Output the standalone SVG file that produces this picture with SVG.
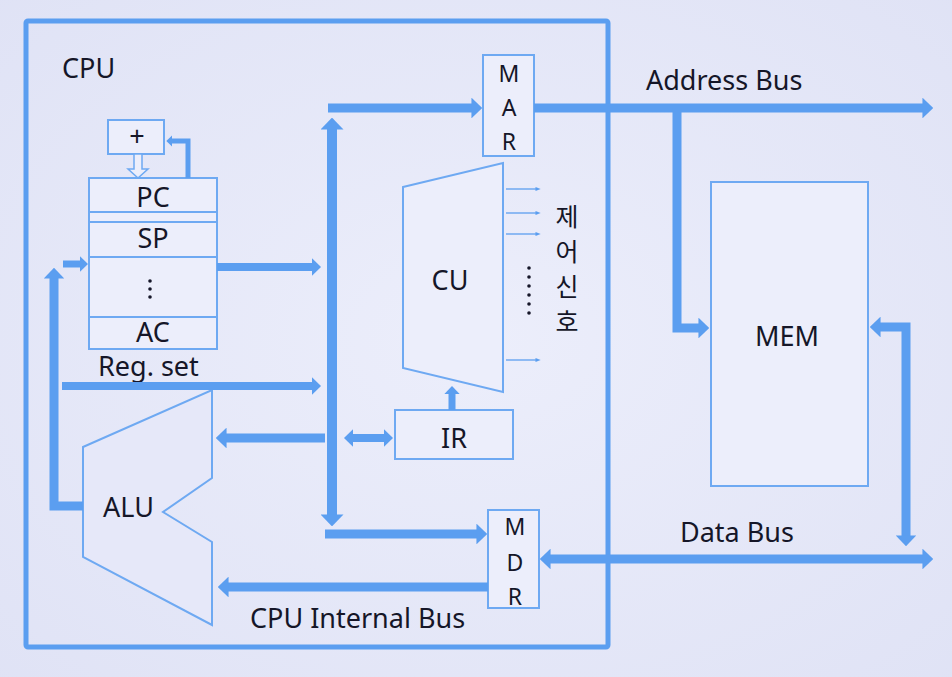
<svg xmlns="http://www.w3.org/2000/svg" width="952" height="677" viewBox="0 0 952 677">
  <defs>
    <radialGradient id="bg" cx="0.5" cy="0.5" r="0.75">
      <stop offset="0" stop-color="#eceefb"/>
      <stop offset="1" stop-color="#dfe2f5"/>
    </radialGradient>
    <marker id="ah" viewBox="0 0 10 10" refX="0.5" refY="5" markerWidth="1.2" markerHeight="2.3" markerUnits="strokeWidth" orient="auto-start-reverse" preserveAspectRatio="none">
      <path d="M0,0 L10,5 L0,10 z" fill="#5b9ef0"/>
    </marker>
    <marker id="as" viewBox="0 0 10 10" refX="1" refY="5" markerWidth="4" markerHeight="4" markerUnits="strokeWidth" orient="auto">
      <path d="M0,1 L10,5 L0,9 z" fill="#5b9ef0"/>
    </marker>
    <style>
      .box { fill: #eceefb; stroke: #6ea9f2; stroke-width: 2; }
      .bus { fill: none; stroke: #5b9ef0; stroke-linejoin: miter; stroke-linecap: butt; }
      .thin { fill: none; stroke: #5b9ef0; stroke-width: 1.3; }
      .t { font-family: "Noto Sans", "Open Sans", "Liberation Sans", sans-serif; font-size: 27px; fill: #151628; }
      .c { text-anchor: middle; }
      .r { font-size: 23px; }
      .k { font-family: "Noto Sans CJK KR", "Noto Sans", sans-serif; font-size: 25px; fill: #151628; }
      .dot { fill: #151628; }
    </style>
  </defs>

  <rect x="0" y="0" width="952" height="677" fill="url(#bg)"/>

  <g id="cpu">
    <rect x="26" y="21" width="582" height="626" fill="none" stroke="#5b9ef0" stroke-width="5" rx="2"/>
    <text class="t" x="62" y="78">CPU</text>
  </g>

  <g id="incrementer">
    <rect class="box" x="108" y="120" width="56" height="34"/>
    <text class="t c" x="137" y="146" font-size="24">+</text>
    <polygon points="134,154 134,169 128,169 138,178 148,169 142,169 142,154" fill="#eceefb" stroke="#6ea9f2" stroke-width="1.5"/>
  </g>

  <g id="reg-set">
    <rect class="box" x="89" y="178" width="128" height="171"/>
    <line x1="89" y1="212" x2="217" y2="212" stroke="#6ea9f2" stroke-width="2"/>
    <line x1="89" y1="222" x2="217" y2="222" stroke="#6ea9f2" stroke-width="2"/>
    <line x1="89" y1="257" x2="217" y2="257" stroke="#6ea9f2" stroke-width="2"/>
    <line x1="89" y1="317" x2="217" y2="317" stroke="#6ea9f2" stroke-width="2"/>
    <text class="t c" x="153" y="207">PC</text>
    <text class="t c" x="153" y="248">SP</text>
    <circle class="dot" cx="150" cy="281" r="1.8"/>
    <circle class="dot" cx="150" cy="289" r="1.8"/>
    <circle class="dot" cx="150" cy="297" r="1.8"/>
    <text class="t c" x="153" y="342">AC</text>
    <text class="t" x="98" y="376">Reg. set</text>
  </g>

  <g id="alu">
    <polygon points="83,447 212,390 212,478 163,512 212,542 212,625 83,557" fill="#e6e8f9" stroke="#6ea9f2" stroke-width="2"/>
    <text class="t" x="103" y="517">ALU</text>
  </g>

  <g id="cu">
    <polygon points="403,187 503,163 503,392 403,368" fill="#eceefb" stroke="#6ea9f2" stroke-width="2"/>
    <text class="t c" x="450" y="290">CU</text>
  </g>

  <g id="ir">
    <rect class="box" x="395" y="410" width="118" height="49"/>
    <text class="t c" x="454" y="448">IR</text>
  </g>

  <g id="mar">
    <rect class="box" x="483" y="55" width="51" height="101"/>
    <text class="t c r" x="509" y="82">M</text>
    <text class="t c r" x="509" y="116">A</text>
    <text class="t c r" x="509" y="150">R</text>
  </g>

  <g id="mdr">
    <rect class="box" x="488" y="510" width="51" height="98"/>
    <text class="t c r" x="515" y="535">M</text>
    <text class="t c r" x="515" y="571">D</text>
    <text class="t c r" x="515" y="605">R</text>
  </g>

  <g id="mem">
    <rect class="box" x="711" y="182" width="157" height="304"/>
    <text class="t c" x="787" y="346">MEM</text>
  </g>

  <g id="control-signals">
    <line class="thin" x1="506" y1="189" x2="536" y2="189" marker-end="url(#as)"/>
    <line class="thin" x1="506" y1="213" x2="536" y2="213" marker-end="url(#as)"/>
    <line class="thin" x1="506" y1="234" x2="536" y2="234" marker-end="url(#as)"/>
    <line class="thin" x1="506" y1="360" x2="536" y2="360" marker-end="url(#as)"/>
    <circle class="dot" cx="529" cy="268" r="1.8"/>
    <circle class="dot" cx="529" cy="277" r="1.8"/>
    <circle class="dot" cx="529" cy="286" r="1.8"/>
    <circle class="dot" cx="529" cy="295" r="1.8"/>
    <circle class="dot" cx="529" cy="304" r="1.8"/>
    <circle class="dot" cx="529" cy="313" r="1.8"/>
    <text class="k" x="567" y="204" writing-mode="vertical-rl" letter-spacing="10">제어신호</text>
  </g>

  <g id="bus-labels">
    <text class="t" x="646" y="90">Address Bus</text>
    <text class="t" x="680" y="542">Data Bus</text>
    <text class="t" x="250" y="628">CPU Internal Bus</text>
  </g>

  <g id="connectors">
    <path class="bus" stroke-width="10" d="M332,129 V515" marker-start="url(#ah)" marker-end="url(#ah)"/>
    <path class="bus" stroke-width="9" d="M328,108 H472" marker-end="url(#ah)"/>
    <path class="bus" stroke-width="9" d="M534,108 H923" marker-end="url(#ah)"/>
    <path class="bus" stroke-width="9" d="M677,108 V328 H699" marker-end="url(#ah)"/>
    <path class="bus" stroke-width="9" d="M880,327 H906 V536" marker-start="url(#ah)" marker-end="url(#ah)"/>
    <path class="bus" stroke-width="9" d="M550,559 H923" marker-start="url(#ah)" marker-end="url(#ah)"/>
    <path class="bus" stroke-width="9" d="M325,534 H477" marker-end="url(#ah)"/>
    <path class="bus" stroke-width="9" d="M488,587 H228" marker-end="url(#ah)"/>
    <path class="bus" stroke-width="9" d="M325,438 H226" marker-end="url(#ah)"/>
    <path class="bus" stroke-width="8" d="M353,438 H384" marker-start="url(#ah)" marker-end="url(#ah)"/>
    <path class="bus" stroke-width="7" d="M452,410 V394" marker-end="url(#ah)"/>
    <path class="bus" stroke-width="8" d="M217,267 H312" marker-end="url(#ah)"/>
    <path class="bus" stroke-width="8" d="M62,386 H312" marker-end="url(#ah)"/>
    <path class="bus" stroke-width="9" d="M83,506 H54 V278" marker-end="url(#ah)"/>
    <path class="bus" stroke-width="7" d="M63,264 H80" marker-end="url(#ah)"/>
    <path class="bus" stroke-width="5" d="M188,178 V141 H172" marker-end="url(#ah)"/>
  </g>
</svg>
